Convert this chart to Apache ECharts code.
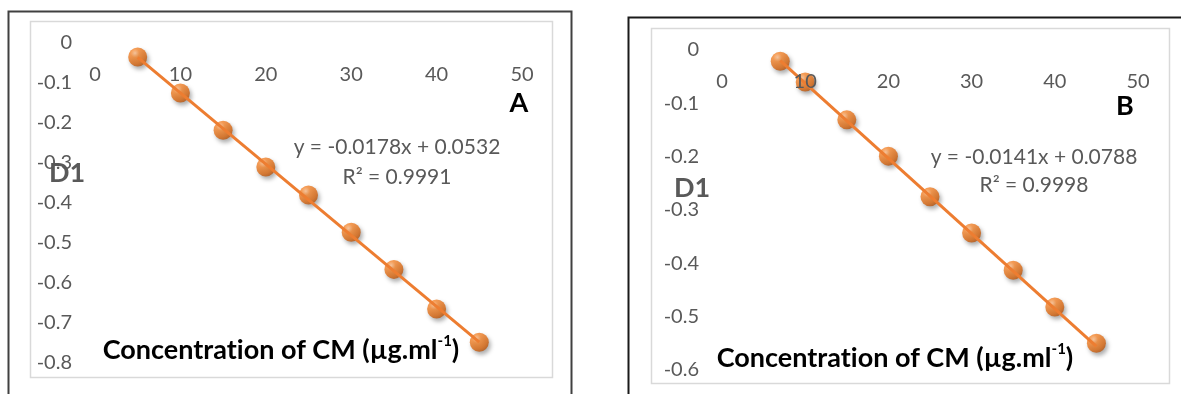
<!DOCTYPE html>
<html>
<head>
<meta charset="utf-8">
<script src="https://cdn.jsdelivr.net/npm/echarts@6/dist/echarts.min.js"></script>
<style>
  html, body { margin: 0; padding: 0; background: #ffffff; }
  #chart { width: 1181px; height: 394px; }
</style>
</head>
<body>
<div id="chart"></div>
<script>
// Calibration data: concentration of CM (µg/ml) against first-derivative response D1
const concA = [5, 10, 15, 20, 25, 30, 35, 40, 45];
const d1A = [-0.035, -0.125, -0.218, -0.31, -0.38, -0.473, -0.566, -0.665, -0.748];
const concB = [7, 10, 15, 20, 25, 30, 35, 40, 45];
const d1B = [-0.021, -0.06, -0.131, -0.199, -0.275, -0.343, -0.413, -0.482, -0.55];

// Least-squares fits as reported on each panel
const fitA = { slope: -0.0178, intercept: 0.0532, r2: '0.9991' };
const fitB = { slope: -0.0141, intercept: 0.0788, r2: '0.9998' };

// Axis ranges
const xRange = { min: 0, max: 50, step: 10 };
const yRangeA = { min: -0.8, max: 0, step: 0.1 };
const yRangeB = { min: -0.6, max: 0, step: 0.1 };

const panelLabels = ['A', 'B'];
const yTitle = 'D1';
// title split into runs so "t" and "i" are drawn as separate glyphs
const xTitleParts = ['Concentrat', 'ion of CM (µg.ml'];
const xTitleSup = '-1';

const FONT = 'Lato, "Open Sans", sans-serif';
const GREY = '#595959';
const ORANGE = '#ED7D31';

function fitText(fit) {
  const sign = fit.intercept < 0 ? '-' : '+';
  return 'y = ' + fit.slope.toFixed(4) + 'x ' + sign + ' ' + Math.abs(fit.intercept).toFixed(4);
}
function trendPoints(xs, fit) {
  const x0 = xs[0], x1 = xs[xs.length - 1];
  return [[x0, fit.slope * x0 + fit.intercept], [x1, fit.slope * x1 + fit.intercept]];
}

const sphere = {
  color: {
    type: 'radial', x: 0.36, y: 0.3, r: 0.75,
    colorStops: [
      { offset: 0, color: '#FEC08E' },
      { offset: 0.3, color: '#F5872F' },
      { offset: 0.75, color: '#DC6A14' },
      { offset: 1, color: '#B5520C' }
    ]
  },
  shadowColor: 'rgba(0,0,0,0.4)',
  shadowBlur: 4,
  shadowOffsetX: 2,
  shadowOffsetY: 3
};

function xAxisCfg(gridIndex) {
  return {
    gridIndex, type: 'value', min: xRange.min, max: xRange.max, interval: xRange.step,
    position: 'top', z: 5,
    axisLine: { show: false },
    axisTick: { show: false },
    splitLine: { show: false },
    axisLabel: { inside: true, color: GREY, fontFamily: FONT, fontSize: 20, margin: 22 }
  };
}
function yAxisCfg(gridIndex, r) {
  return {
    gridIndex, type: 'value', min: r.min, max: r.max, interval: r.step, z: 5,
    axisLine: { show: false },
    axisTick: { show: false },
    splitLine: { show: false },
    axisLabel: { color: GREY, fontFamily: FONT, fontSize: 20, margin: 23 }
  };
}

function txt(x, y, text, size, color, bold) {
  return {
    type: 'text', x, y, z: 20,
    style: {
      text, fill: color, align: 'center', verticalAlign: 'middle',
      font: (bold ? 'bold ' : '') + size + 'px ' + FONT
    }
  };
}
function axisTitle(x, y) {
  return {
    type: 'text', x, y, z: 20,
    style: {
      text: xTitleParts.map(p => '{m|' + p + '}').join('') + '{s|' + xTitleSup + '}{m|)}',
      align: 'center', verticalAlign: 'middle',
      rich: {
        m: { fontFamily: FONT, fontWeight: 'bold', fontSize: 27, color: GREY, lineHeight: 32 },
        s: { fontFamily: FONT, fontWeight: 'bold', fontSize: 15, color: GREY, lineHeight: 32, verticalAlign: 'top', padding: [0, 0, 12, 0] }
      }
    }
  };
}

const chart = echarts.init(document.getElementById('chart'), null, { renderer: 'canvas' });

chart.setOption({
  backgroundColor: '#ffffff',
  animation: false,
  grid: [
    { left: 95, top: 43, width: 427, height: 320, outerBoundsMode: 'none', containLabel: false },
    { left: 722, top: 50, width: 416, height: 320, outerBoundsMode: 'none', containLabel: false }
  ],
  xAxis: [xAxisCfg(0), xAxisCfg(1)],
  yAxis: [yAxisCfg(0, yRangeA), yAxisCfg(1, yRangeB)],
  series: [
    {
      type: 'scatter', xAxisIndex: 0, yAxisIndex: 0, z: 2,
      symbol: 'circle', symbolSize: 19, itemStyle: sphere,
      data: concA.map((c, i) => [c, d1A[i]])
    },
    {
      type: 'line', xAxisIndex: 0, yAxisIndex: 0, z: 3,
      showSymbol: false, lineStyle: { color: ORANGE, width: 3 },
      data: trendPoints(concA, fitA)
    },
    {
      type: 'scatter', xAxisIndex: 1, yAxisIndex: 1, z: 2,
      symbol: 'circle', symbolSize: 19, itemStyle: sphere,
      data: concB.map((c, i) => [c, d1B[i]])
    },
    {
      type: 'line', xAxisIndex: 1, yAxisIndex: 1, z: 3,
      showSymbol: false, lineStyle: { color: ORANGE, width: 3 },
      data: trendPoints(concB, fitB)
    }
  ],
  graphic: [
    // panel frames
    { type: 'rect', z: 1, shape: { x: 8.5, y: 11.5, width: 563, height: 420 },
      style: { fill: 'none', stroke: '#404040', lineWidth: 2 } },
    { type: 'rect', z: 1, shape: { x: 30.5, y: 21.5, width: 522, height: 356 },
      style: { fill: 'none', stroke: '#D9D9D9', lineWidth: 1.5 } },
    { type: 'rect', z: 1, shape: { x: 628.5, y: 17.5, width: 620, height: 420 },
      style: { fill: 'none', stroke: '#1A1A1A', lineWidth: 2 } },
    { type: 'rect', z: 1, shape: { x: 651.5, y: 28.5, width: 518, height: 355 },
      style: { fill: 'none', stroke: '#D9D9D9', lineWidth: 1.5 } },

    // panel A texts
    txt(67, 173, yTitle, 27, GREY, true),
    txt(519, 103, panelLabels[0], 27, '#000000', true),
    txt(397, 147, fitText(fitA), 21, GREY, false),
    txt(397, 177, 'R² = ' + fitA.r2, 21, GREY, false),
    axisTitle(281, 350),

    // panel B texts
    txt(692, 188, yTitle, 27, GREY, true),
    txt(1125, 106, panelLabels[1], 27, '#000000', true),
    txt(1034, 157, fitText(fitB), 21, GREY, false),
    txt(1034, 185, 'R² = ' + fitB.r2, 21, GREY, false),
    axisTitle(895, 358)
  ]
});
</script>
</body>
</html>
